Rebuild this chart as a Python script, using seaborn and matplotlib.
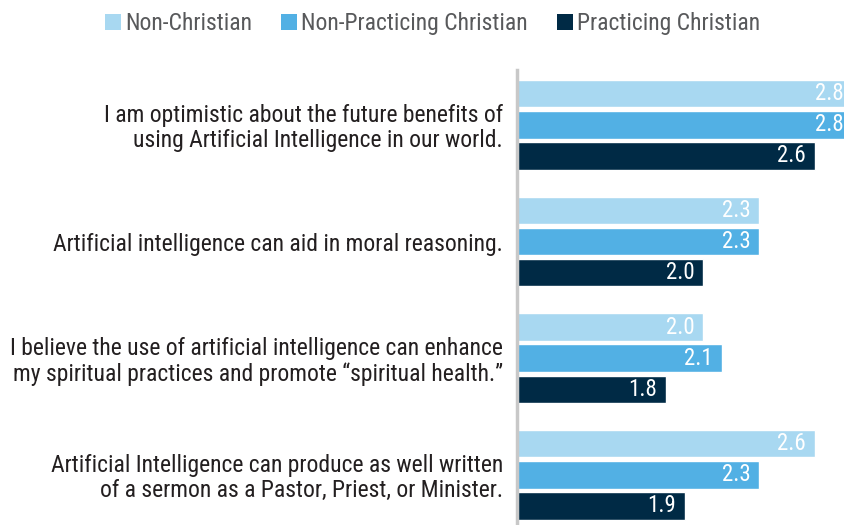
import seaborn as sns
import pandas as pd
import matplotlib.pyplot as plt
from matplotlib import use
from matplotlib.patches import Patch

use('agg')

statements = [
    'I am optimistic about the future benefits of\nusing Artificial Intelligence in our world.',
    'Artificial intelligence can aid in moral reasoning.',
    'I believe the use of artificial intelligence can enhance\nmy spiritual practices and promote \u201cspiritual health.\u201d',
    'Artificial Intelligence can produce as well written\nof a sermon as a Pastor, Priest, or Minister.',
]
groups = ['Non-Christian', 'Non-Practicing Christian', 'Practicing Christian']
non_christian = [2.8, 2.3, 2.0, 2.6]
non_practicing = [2.8, 2.3, 2.1, 2.3]
practicing = [2.6, 2.0, 1.8, 1.9]
colours = ['#a8d8f1', '#52b0e4', '#002a45']

df = pd.DataFrame({
    'statement': statements * 3,
    'group': [g for g in groups for _ in statements],
    'score': non_christian + non_practicing + practicing,
})

sns.set_theme(style='white')
plt.rcParams['font.family'] = ['Roboto Condensed', 'DejaVu Sans']

fig = plt.figure(figsize=(8.45, 5.25), dpi=100, facecolor='white')
ax = fig.add_axes([517 / 845, 0.0, 1 - 517 / 845, 1 - 70 / 525])

sns.barplot(data=df, y='statement', x='score', hue='group', orient='h',
            palette=colours, width=0.8, gap=0.12, ax=ax, legend=False,
            saturation=1, errorbar=None)

# x axis starts at 1.0, longest bars run past the right edge
ax.set_xlim(1.0, 2.76)
ax.set_ylim(3.43, -0.47)
ax.set_xlabel('')
ax.set_ylabel('')
ax.set_xticks([])
for side in ['top', 'right', 'bottom']:
    ax.spines[side].set_visible(False)
ax.spines['left'].set_color('#c8c8c8')
ax.spines['left'].set_linewidth(2.5)
ax.tick_params(axis='y', length=0, pad=10, labelsize=17, labelcolor='#231f20')
for lbl in ax.get_yticklabels():
    lbl.set_linespacing(1.08)

for container in ax.containers:
    for bar in container:
        v = bar.get_width()
        ax.annotate(f'{v:.1f}', xy=(v, bar.get_y() + bar.get_height() / 2),
                    xytext=(-9, 0), textcoords='offset pixels',
                    ha='right', va='center', color='white', fontsize=16.5,
                    annotation_clip=False)

handles = [Patch(facecolor=c, edgecolor='none') for c in colours]
fig.legend(handles, groups, loc='upper center', bbox_to_anchor=(0.512, 1.017),
           ncol=3, frameon=False, fontsize=17, handlelength=0.65, handleheight=0.65,
           handletextpad=0.18, columnspacing=1.25, labelcolor='#58595b')

plt.savefig('out.png', dpi=100)
